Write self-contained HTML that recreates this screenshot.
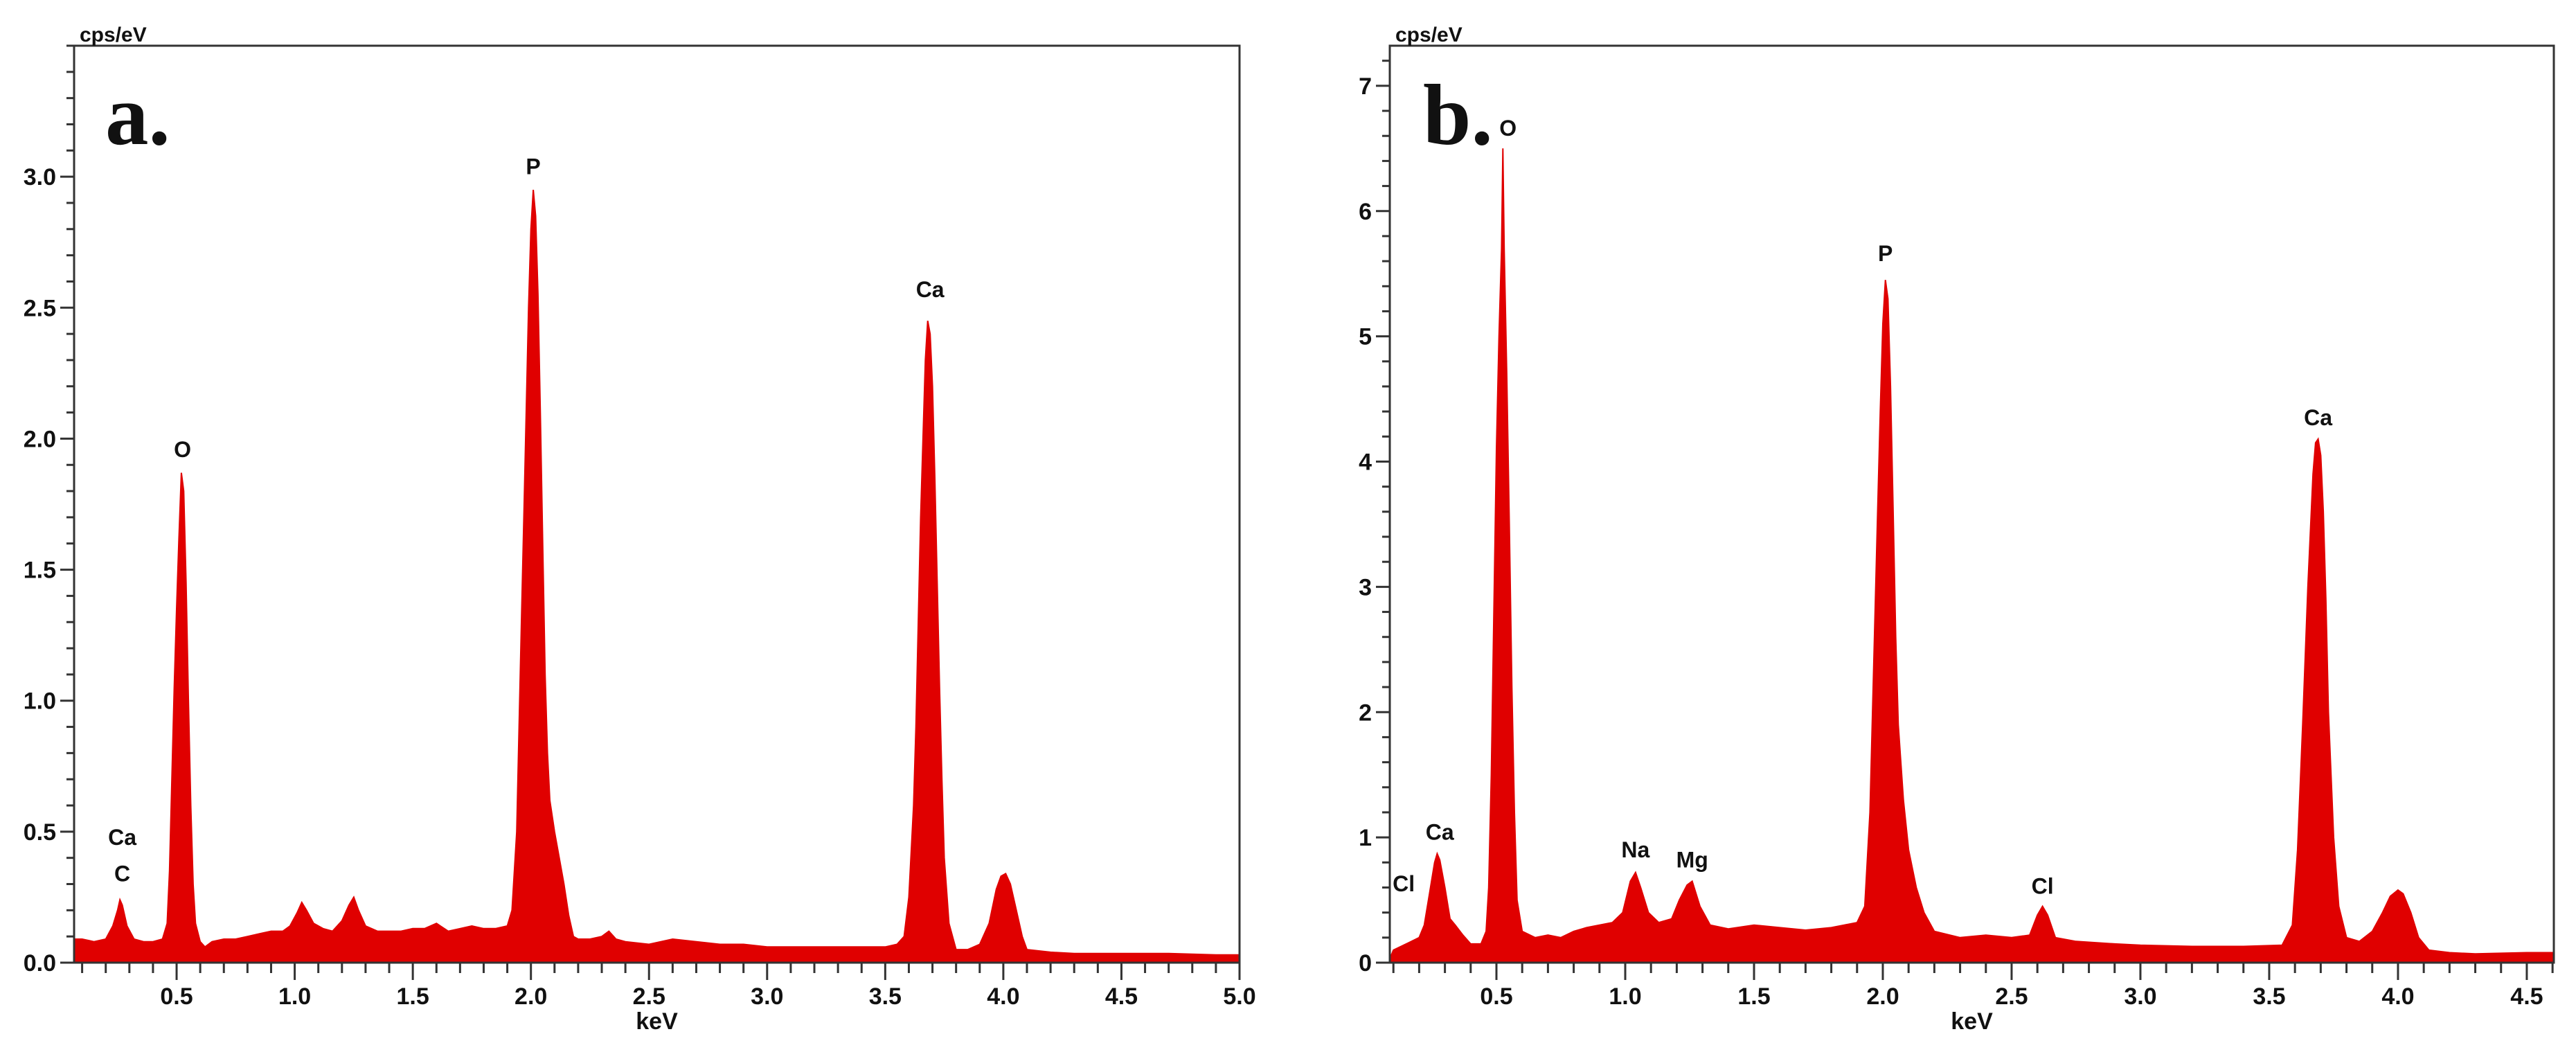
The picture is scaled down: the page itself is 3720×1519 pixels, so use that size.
<!DOCTYPE html>
<html>
<head>
<meta charset="utf-8">
<style>
html,body{margin:0;padding:0;background:#fff;}
svg{display:block;}
text{font-family:"Liberation Sans Narrow","Liberation Sans",sans-serif;font-weight:bold;fill:#111;}
.tick{font-family:"Liberation Sans",sans-serif;font-size:34px;fill:#111;}
.unit{font-family:"Liberation Sans",sans-serif;font-size:30px;}
.peak{font-size:32px;}
.panel{font-family:"Liberation Serif",serif;font-size:125px;font-weight:bold;}
</style>
</head>
<body>
<svg id="chart" width="3720" height="1519" viewBox="0 0 3720 1519" xmlns="http://www.w3.org/2000/svg"></svg>
<script>
// ---- Panel a data ----
const energyA = [0.07,0.1,0.15,0.2,0.23,0.25,0.26,0.27,0.29,0.32,0.36,0.40,0.44,0.46,0.47,0.48,0.49,0.50,0.51,0.52,0.53,0.54,0.55,0.56,0.57,0.58,0.60,0.62,0.65,0.7,0.75,0.8,0.85,0.9,0.95,0.98,1.01,1.03,1.05,1.08,1.12,1.16,1.2,1.23,1.25,1.27,1.3,1.35,1.4,1.45,1.5,1.55,1.6,1.65,1.7,1.75,1.8,1.85,1.9,1.92,1.94,1.95,1.96,1.97,1.98,1.99,2.0,2.01,2.02,2.03,2.04,2.05,2.06,2.07,2.08,2.10,2.12,2.14,2.16,2.18,2.2,2.25,2.3,2.33,2.36,2.4,2.5,2.6,2.7,2.8,2.9,3.0,3.1,3.2,3.3,3.4,3.5,3.55,3.58,3.6,3.62,3.63,3.64,3.65,3.66,3.67,3.68,3.69,3.70,3.71,3.72,3.73,3.74,3.75,3.77,3.8,3.85,3.9,3.94,3.97,3.99,4.01,4.03,4.05,4.08,4.1,4.2,4.3,4.5,4.7,4.9,5.0];
const countsA = [0.09,0.09,0.08,0.09,0.14,0.2,0.24,0.22,0.14,0.09,0.08,0.08,0.09,0.15,0.35,0.7,1.05,1.35,1.62,1.87,1.80,1.45,1.0,0.6,0.3,0.15,0.08,0.06,0.08,0.09,0.09,0.1,0.11,0.12,0.12,0.14,0.19,0.23,0.2,0.15,0.13,0.12,0.16,0.22,0.25,0.2,0.14,0.12,0.12,0.12,0.13,0.13,0.15,0.12,0.13,0.14,0.13,0.13,0.14,0.2,0.5,0.9,1.3,1.7,2.1,2.5,2.8,2.95,2.85,2.55,2.1,1.6,1.1,0.8,0.62,0.5,0.4,0.3,0.18,0.1,0.09,0.09,0.1,0.12,0.09,0.08,0.07,0.09,0.08,0.07,0.07,0.06,0.06,0.06,0.06,0.06,0.06,0.07,0.1,0.25,0.6,0.9,1.3,1.7,2.0,2.3,2.45,2.4,2.2,1.85,1.45,1.05,0.7,0.4,0.15,0.05,0.05,0.07,0.15,0.28,0.33,0.34,0.3,0.22,0.1,0.05,0.04,0.035,0.035,0.035,0.03,0.03];
const peakLabelsA = ["Ca","C","O","P","Ca"];
const peakLabelKeVA = [0.27,0.27,0.525,2.01,3.69];
const peakLabelValA = [0.45,0.31,1.93,3.01,2.54];
const yTicksA = ["0.0","0.5","1.0","1.5","2.0","2.5","3.0"];
const yTickValsA = [0,0.5,1,1.5,2,2.5,3];
const xTicksA = ["0.5","1.0","1.5","2.0","2.5","3.0","3.5","4.0","4.5","5.0"];

// ---- Panel b data ----
const energyB = [0.09,0.1,0.15,0.2,0.22,0.24,0.26,0.27,0.28,0.30,0.32,0.34,0.37,0.4,0.44,0.46,0.47,0.48,0.49,0.50,0.51,0.52,0.525,0.53,0.54,0.55,0.56,0.57,0.58,0.6,0.65,0.7,0.75,0.8,0.85,0.9,0.95,0.99,1.02,1.04,1.06,1.09,1.13,1.18,1.21,1.24,1.26,1.29,1.33,1.4,1.5,1.6,1.7,1.8,1.85,1.9,1.93,1.95,1.96,1.97,1.98,1.99,2.0,2.01,2.02,2.03,2.04,2.05,2.06,2.08,2.10,2.13,2.16,2.2,2.3,2.4,2.5,2.57,2.6,2.62,2.64,2.67,2.75,2.9,3.0,3.2,3.4,3.55,3.59,3.61,3.63,3.65,3.67,3.68,3.69,3.70,3.71,3.72,3.73,3.75,3.77,3.8,3.85,3.9,3.94,3.97,4.0,4.02,4.05,4.08,4.12,4.2,4.3,4.5,4.6];
const countsB = [0.05,0.1,0.15,0.2,0.3,0.55,0.8,0.87,0.82,0.6,0.35,0.3,0.22,0.15,0.15,0.25,0.6,1.5,2.8,4.1,5.0,5.7,6.5,5.7,4.7,3.5,2.2,1.2,0.5,0.25,0.2,0.22,0.2,0.25,0.28,0.3,0.32,0.4,0.65,0.72,0.6,0.4,0.32,0.35,0.5,0.62,0.65,0.45,0.3,0.27,0.3,0.28,0.26,0.28,0.3,0.32,0.45,1.2,2.0,2.8,3.6,4.4,5.1,5.45,5.3,4.6,3.6,2.6,1.9,1.3,0.9,0.6,0.4,0.25,0.2,0.22,0.2,0.22,0.38,0.45,0.38,0.2,0.17,0.15,0.14,0.13,0.13,0.14,0.3,0.9,1.9,3.0,3.9,4.15,4.18,4.05,3.6,2.9,2.0,1.0,0.45,0.2,0.17,0.25,0.4,0.53,0.58,0.55,0.4,0.2,0.1,0.08,0.07,0.08,0.08];
const peakLabelsB = ["Cl","Ca","O","Na","Mg","P","Cl","Ca"];
const peakLabelKeVB = [0.14,0.28,0.545,1.04,1.26,2.01,2.62,3.69];
const peakLabelValB = [0.57,0.98,6.6,0.84,0.76,5.6,0.55,4.29];
const yTicksB = ["0","1","2","3","4","5","6","7"];
const yTickValsB = [0,1,2,3,4,5,6,7];
const xTicksB = ["0.5","1.0","1.5","2.0","2.5","3.0","3.5","4.0","4.5"];

const NS = "http://www.w3.org/2000/svg";
const svg = document.getElementById("chart");
function mk(tag, attrs, parent){
  const e = document.createElementNS(NS, tag);
  for (const k in attrs) e.setAttribute(k, attrs[k]);
  (parent||svg).appendChild(e);
  return e;
}

function drawPanel(p){
  const g = mk("g", {});
  
  
  const sx = v => p.x0 + (v - p.xmin) / (p.xmax - p.xmin) * (p.x1 - p.x0);
  const sy = v => p.y1 - (v - 0) / (p.ymax - 0) * (p.y1 - p.y0);

  // spectrum fill
  let d = "M" + sx(p.energy[0]) + "," + p.y1;
  for (let i = 0; i < p.energy.length; i++) d += " L" + sx(p.energy[i]).toFixed(1) + "," + sy(p.counts[i]).toFixed(1);
  d += " L" + sx(p.energy[p.energy.length-1]) + "," + p.y1 + " Z";
  const area = mk("path", {d: d, fill: "#e00000", stroke: "#e00000", "stroke-width": 2}, g);
  
  

  // plot frame
  const frame = mk("rect", {x: p.x0, y: p.y0, width: p.x1 - p.x0, height: p.y1 - p.y0, fill: "none", stroke: "#333", "stroke-width": 3}, g);
  
  

  // y ticks minor
  for (let v = 0; v <= p.ymax + 1e-9; v += p.yMinor) {
    const y = sy(v);
    const isMajor = p.yTickVals.some(t => Math.abs(t - v) < 1e-6);
    mk("line", {x1: p.x0 - (isMajor ? 20 : 11), x2: p.x0, y1: y, y2: y, stroke: "#333", "stroke-width": 3}, g);
  }
  p.yTickVals.forEach((v, i) => {
    const t = mk("text", {x: p.x0 - 26, y: sy(v) + 12, "text-anchor": "end", class: "tick"}, g);
    t.textContent = p.yTicks[i];
    
    
  });
  // x ticks
  const start = Math.ceil(p.xmin * 10 - 1e-6);
  for (let k = start; k / 10 <= p.xmax + 1e-6; k++) {
    const x = sx(k / 10);
    const isMajor = k % 5 === 0;
    mk("line", {x1: x, x2: x, y1: p.y1, y2: p.y1 + (isMajor ? 25 : 15), stroke: "#333", "stroke-width": 3}, g);
  }
  p.xTicks.forEach(s => {
    const t = mk("text", {x: sx(parseFloat(s)), y: p.y1 + 60, "text-anchor": "middle", class: "tick"}, g);
    t.textContent = s;
    
    
  });
  const xt = mk("text", {x: (p.x0 + p.x1) / 2, y: p.y1 + 96, "text-anchor": "middle", class: "tick"}, g);
  xt.textContent = "keV";
  
  
  const yt = mk("text", {x: p.x0 + 8, y: p.y0 - 6, class: "unit"}, g);
  yt.textContent = "cps/eV";
  
  
  const pl = mk("text", {x: p.labelX, y: 208, class: "panel"}, g);
  pl.textContent = p.panelLabel;
  
  
  p.labels.forEach((s, i) => {
    const t = mk("text", {x: sx(p.labelKeV[i]), y: sy(p.labelVal[i]), "text-anchor": "middle", class: "peak"}, g);
    t.textContent = s;
    
    
  });
}

drawPanel({name: "panel-a", x0: 107, x1: 1790, y0: 66, y1: 1390, xmin: 0.066, xmax: 5.0, ymax: 3.5, yMinor: 0.1,
  energy: energyA, counts: countsA, labels: peakLabelsA, labelKeV: peakLabelKeVA, labelVal: peakLabelValA,
  yTicks: yTicksA, yTickVals: yTickValsA, xTicks: xTicksA, panelLabel: "a.", labelX: 152});
drawPanel({name: "panel-b", x0: 2007, x1: 3688, y0: 66, y1: 1390, xmin: 0.086, xmax: 4.605, ymax: 7.32, yMinor: 0.2,
  energy: energyB, counts: countsB, labels: peakLabelsB, labelKeV: peakLabelKeVB, labelVal: peakLabelValB,
  yTicks: yTicksB, yTickVals: yTickValsB, xTicks: xTicksB, panelLabel: "b.", labelX: 2055});
</script>
</body>
</html>
